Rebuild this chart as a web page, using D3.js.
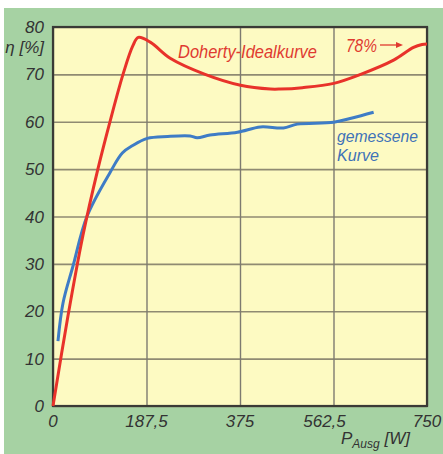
<!DOCTYPE html>
<html>
<head>
<meta charset="utf-8">
<script src="https://cdn.jsdelivr.net/npm/d3@7"></script>
<style>
  body { margin: 0; background: #fff; }
  text { font-family: "Liberation Sans", Arial, sans-serif; font-style: italic; }
</style>
</head>
<body>
<div id="chart"></div>
<script>
// Doherty ideal curve (P in W, efficiency in %)
var idealX = [0, 30, 60, 90, 115, 141, 160, 171, 195, 235, 305, 376, 436, 456, 500, 563, 617, 683, 723, 740, 750];
var idealY = [0, 19, 36, 50, 60.3, 70.2, 76, 77.8, 76.8, 73.4, 70, 67.7, 66.9, 66.9, 67.2, 68.1, 70, 73, 75.7, 76.3, 76.4];

// measured curve
var measX = [10, 20, 40, 68, 115, 139, 160, 189, 230, 275, 289, 315, 370, 416, 462, 490, 563, 600, 643];
var measY = [13.7, 21.7, 29.5, 40, 49.4, 53.4, 55, 56.5, 56.9, 57.0, 56.6, 57.2, 57.8, 58.9, 58.7, 59.5, 59.9, 60.8, 62.0];

var xTicks = [0, 187.5, 375, 562.5, 750];
var xTickLabels = ["0", "187,5", "375", "562,5", "750"];
var yTicks = [0, 10, 20, 30, 40, 50, 60, 70, 80];

var svgWidth = 443;
var svgHeight = 454;
var margin = { top: 27, right: 16, bottom: 48, left: 53 };
var width = 427 - margin.left;
var height = 406 - margin.top;

var svg = d3.select("#chart")
  .append("svg")
  .attr("width", svgWidth)
  .attr("height", svgHeight);

// green panel
svg.append("rect")
  .attr("x", 4).attr("y", 8)
  .attr("width", svgWidth - 4).attr("height", svgHeight - 8)
  .attr("fill", "#a6d2a3");

var chartGroup = svg.append("g")
  .attr("transform", `translate(${margin.left}, ${margin.top})`);

var x = d3.scaleLinear().domain([0, 750]).range([0, width]);
var y = d3.scaleLinear().domain([0, 80]).range([height, 0]);

// plot background
chartGroup.append("rect")
  .attr("width", width).attr("height", height)
  .attr("fill", "#fdfac2");

// grid
chartGroup.append("g")
  .call(d3.axisLeft(y).tickValues(yTicks).tickSize(-width).tickFormat(""))
  .call(g => g.select(".domain").remove())
  .selectAll("line").attr("stroke", "#8f8a72").attr("stroke-width", 1.6);

chartGroup.append("g")
  .call(d3.axisBottom(x).tickValues(xTicks).tickSize(height).tickFormat(""))
  .call(g => g.select(".domain").remove())
  .selectAll("line").attr("stroke", "#7d7a70").attr("stroke-width", 1.4);

// frame
chartGroup.append("rect")
  .attr("width", width).attr("height", height)
  .attr("fill", "none")
  .attr("stroke", "#3a3a36")
  .attr("stroke-width", 2.2);

// y tick labels
chartGroup.selectAll(".ylab")
  .data(yTicks)
  .enter()
  .append("text")
  .attr("x", -9)
  .attr("y", d => y(d))
  .attr("dy", "0.36em")
  .attr("text-anchor", "end")
  .attr("fill", "#333")
  .style("font-size", "17px")
  .text(d => d);

// x tick labels (562,5 sits a bit left of its line in the original)
chartGroup.selectAll(".xlab")
  .data(xTicks)
  .enter()
  .append("text")
  .attr("x", d => x(d) + (d === 562.5 ? -9 : 0))
  .attr("y", height + 21)
  .attr("text-anchor", "middle")
  .attr("fill", "#333")
  .style("font-size", "17px")
  .text((d, i) => xTickLabels[i]);

// axis titles
svg.append("text")
  .attr("x", 44).attr("y", 53)
  .attr("text-anchor", "end")
  .attr("fill", "#333")
  .style("font-size", "17px")
  .text("η [%]");

var xt = svg.append("text")
  .attr("x", 341).attr("y", 444)
  .attr("fill", "#333")
  .style("font-size", "17px");
xt.append("tspan").text("P");
xt.append("tspan").attr("dy", 4).style("font-size", "12px").text("Ausg");
xt.append("tspan").attr("dy", -4).text(" [W]");

// curves
var line = d3.line()
  .x(d => x(d[0]))
  .y(d => y(d[1]))
  .curve(d3.curveCatmullRom.alpha(0.5));

chartGroup.append("path")
  .datum(measX.map((v, i) => [v, measY[i]]))
  .attr("d", line)
  .attr("fill", "none")
  .attr("stroke", "#3e7cc6")
  .attr("stroke-width", 3);

chartGroup.append("path")
  .datum(idealX.map((v, i) => [v, idealY[i]]))
  .attr("d", line)
  .attr("fill", "none")
  .attr("stroke", "#e8322a")
  .attr("stroke-width", 3);

// annotations
svg.append("text")
  .attr("x", 178).attr("y", 58)
  .attr("fill", "#e03a30")
  .attr("textLength", 139)
  .attr("lengthAdjust", "spacingAndGlyphs")
  .style("font-size", "18px")
  .text("Doherty-Idealkurve");

svg.append("text")
  .attr("x", 346).attr("y", 52)
  .attr("fill", "#e03a30")
  .attr("textLength", 31)
  .attr("lengthAdjust", "spacingAndGlyphs")
  .style("font-size", "18px")
  .text("78%");

svg.append("line")
  .attr("x1", 380).attr("y1", 45).attr("x2", 398).attr("y2", 45)
  .attr("stroke", "#e03a30").attr("stroke-width", 1.3);
svg.append("path")
  .attr("d", "M396,42 L403,45 L396,48 Z")
  .attr("fill", "#e03a30");

svg.append("text")
  .attr("x", 337).attr("y", 142)
  .attr("fill", "#3e72b8")
  .attr("textLength", 81)
  .attr("lengthAdjust", "spacingAndGlyphs")
  .style("font-size", "17px")
  .text("gemessene");
svg.append("text")
  .attr("x", 337).attr("y", 161)
  .attr("fill", "#3e72b8")
  .attr("textLength", 42)
  .attr("lengthAdjust", "spacingAndGlyphs")
  .style("font-size", "17px")
  .text("Kurve");
</script>
</body>
</html>
